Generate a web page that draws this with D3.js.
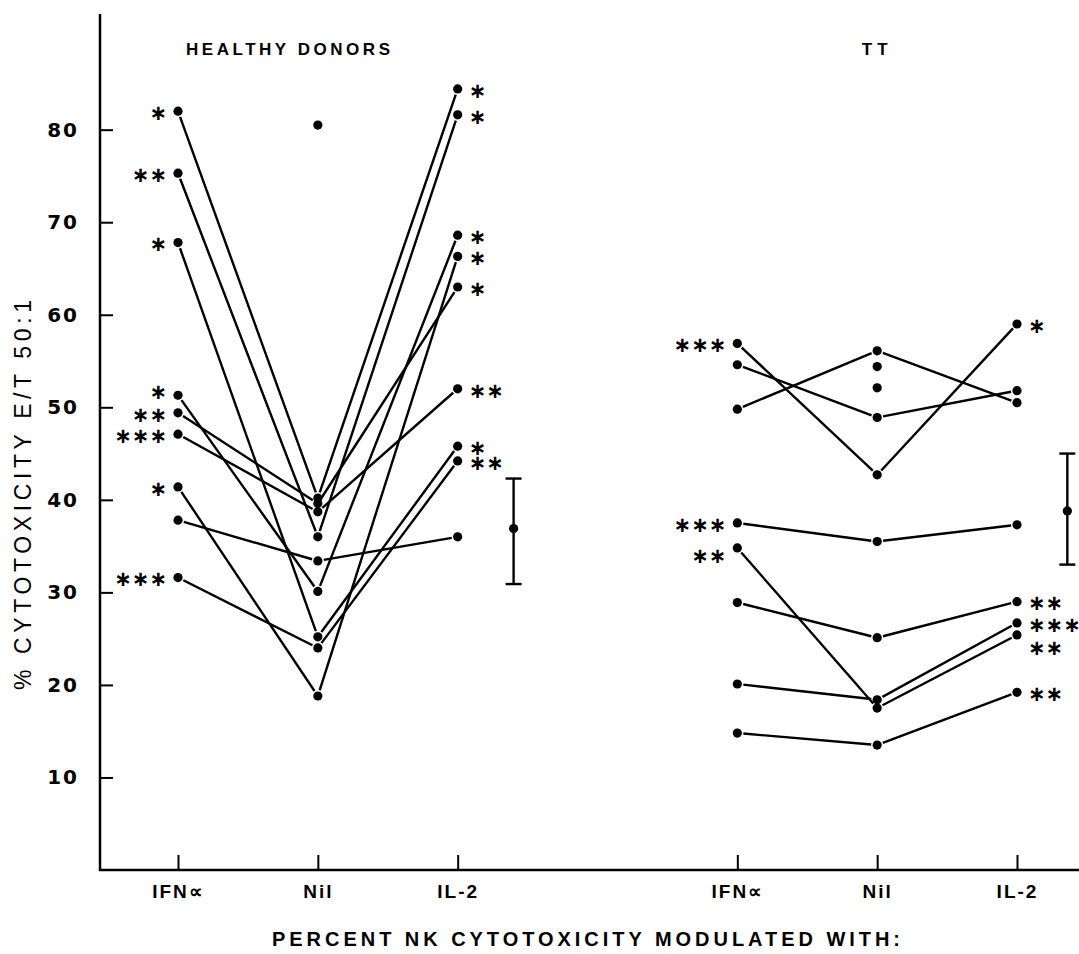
<!doctype html>
<html>
<head>
<meta charset="utf-8">
<title>Percent NK cytotoxicity</title>
<style>
    body { margin: 0; background: white; }
    svg { display: block; }
    .spine { stroke: black; stroke-width: 2.5px; }
    .axis .domain { display: none; }
    .axis line { stroke: black; stroke-width: 2px; }
    .axis-y text { font: bold 20px "DejaVu Sans"; letter-spacing: 2px; fill: black; }
    .axis-x text { font: bold 19px "Liberation Sans"; letter-spacing: 2px; fill: black; }
    .donor { stroke: black; stroke-width: 2.4px; fill: none; }
    .dot { fill: black; }
    .star { font: bold 21px "DejaVu Sans"; fill: black; }
    .title { font: bold 17px "Liberation Sans"; fill: black; }
    .xtitle { font: bold 20px "Liberation Sans"; fill: black; }
    .ytitle { font: 23px "Liberation Sans"; fill: black; }
    .bar { stroke: black; stroke-width: 2.4px; }
</style>
</head>
<body>
<script src="https://cdn.jsdelivr.net/npm/d3@7"></script>
<script>
    // values (% cytotoxicity, E/T 50:1)
    const panelTitles = ["HEALTHY DONORS", "TT"];
    const treatments = ["IFN∝", "Nil", "IL-2"];
    const yTicks = [10, 20, 30, 40, 50, 60, 70, 80];

    // healthy donors, one entry per donor
    const hdIFN = [82.0, 75.3, 67.8, 51.3, 49.4, 47.1, 41.4, 37.8, 31.6];
    const hdNil = [40.2, 36.0, 25.2, 30.1, 39.6, 38.7, 18.8, 33.4, 24.0];
    const hdIL2 = [84.4, 81.6, 45.8, 68.6, 63.0, 52.0, 66.3, 36.0, 44.2];
    const hdIFNStars = ["*", "**", "*", "*", "**", "***", "*", "", "***"];
    const hdIL2Stars = ["*", "*", "*", "*", "*", "**", "*", "", "**"];
    const hdNilOnly = [80.5];
    const hdMean = [30.9, 36.9, 42.3];

    // TT patients
    const ttIFN = [56.9, 54.6, 49.8, 37.5, 34.8, 28.9, 20.1, 14.8];
    const ttNil = [42.7, 48.9, 56.1, 35.5, 17.5, 25.1, 18.4, 13.5];
    const ttIL2 = [59.0, 51.8, 50.5, 37.3, 25.4, 29.0, 26.7, 19.2];
    const ttIFNStars = ["***", "", "", "***", "**", "", "", ""];
    const ttIL2Stars = ["*", "", "", "", "**", "**", "***", "**"];
    const ttNilOnly = [54.4, 52.1];
    const ttMean = [33.0, 38.8, 45.0];

    const width = 1079, height = 954;
    const axisLeft = 100;
    const svg = d3.select("body").append("svg")
        .attr("width", width)
        .attr("height", height);

    const y = d3.scaleLinear().domain([0, 92.5]).range([870, 14]);
    // six treatment slots, an empty slot between the two panels
    const x = d3.scaleLinear().domain([0, 6]).range([178, 1017]);
    const slot = (panel, i) => panel * 4 + i;

    // axes
    svg.append("line").attr("class", "spine")
        .attr("x1", axisLeft).attr("x2", axisLeft)
        .attr("y1", y(0) + 1).attr("y2", y(92.5));
    svg.append("line").attr("class", "spine")
        .attr("x1", axisLeft - 1).attr("x2", width)
        .attr("y1", y(0)).attr("y2", y(0));

    svg.append("g")
        .attr("class", "axis axis-y")
        .attr("transform", `translate(${axisLeft},0)`)
        .call(d3.axisLeft(y).tickValues(yTicks).tickSize(-13).tickPadding(21).tickFormat(d3.format("d")));

    const xSlots = [0, 1, 2, 4, 5, 6];
    svg.append("g")
        .attr("class", "axis axis-x")
        .attr("transform", `translate(0,${y(0)})`)
        .call(d3.axisBottom(x).tickValues(xSlots).tickSize(-15).tickPadding(15)
            .tickFormat(d => treatments[d % 4]));

    const gap = 6;

    function panel(p, ifn, nil, il2, ifnStars, il2Stars, nilOnly, mean, barSlot, nudge) {
        const g = svg.append("g");
        const cols = [ifn, nil, il2];
        const donors = d3.range(ifn.length)
            .map(k => cols.map((c, i) => ({x: x(slot(p, i)), y: y(c[k])})));

        const segs = donors.flatMap(pts => [[pts[0], pts[1]], [pts[1], pts[2]]]);
        g.selectAll("line.donor")
            .data(segs)
            .join("line")
            .attr("class", "donor")
            .each(function ([a, b]) {
                const len = Math.hypot(b.x - a.x, b.y - a.y);
                const ux = (b.x - a.x) / len, uy = (b.y - a.y) / len;
                d3.select(this)
                    .attr("x1", a.x + ux * gap).attr("y1", a.y + uy * gap)
                    .attr("x2", b.x - ux * gap).attr("y2", b.y - uy * gap);
            });

        const dots = donors.flat()
            .concat(nilOnly.map(v => ({x: x(slot(p, 1)), y: y(v)})));
        g.selectAll("circle.dot")
            .data(dots)
            .join("circle")
            .attr("class", "dot")
            .attr("cx", d => d.x)
            .attr("cy", d => d.y)
            .attr("r", 4.6);

        // significance stars
        g.selectAll("text.ifnstar")
            .data(ifnStars)
            .join("text")
            .attr("class", "star ifnstar")
            .attr("x", x(slot(p, 0)) - 11)
            .attr("y", (d, k) => y(ifn[k]) + (nudge[`ifn${k}`] || 0))
            .attr("dy", "0.42em")
            .attr("text-anchor", "end")
            .text(d => d.replace(/\*/g, "∗"));
        g.selectAll("text.il2star")
            .data(il2Stars)
            .join("text")
            .attr("class", "star il2star")
            .attr("x", x(slot(p, 2)) + 11)
            .attr("y", (d, k) => y(il2[k]) + (nudge[`il2${k}`] || 0))
            .attr("dy", "0.42em")
            .attr("text-anchor", "start")
            .text(d => d.replace(/\*/g, "∗"));

        // mean +/- range bar
        const bx = x(barSlot);
        g.append("line").attr("class", "bar")
            .attr("x1", bx).attr("x2", bx)
            .attr("y1", y(mean[0])).attr("y2", y(mean[2]));
        g.selectAll("line.cap")
            .data([mean[0], mean[2]])
            .join("line")
            .attr("class", "bar cap")
            .attr("x1", bx - 8).attr("x2", bx + 8)
            .attr("y1", d => y(d)).attr("y2", d => y(d));
        g.append("circle").attr("class", "dot")
            .attr("cx", bx).attr("cy", y(mean[1])).attr("r", 4.6);
    }

    panel(0, hdIFN, hdNil, hdIL2, hdIFNStars, hdIL2Stars, hdNilOnly, hdMean, 2.4, {ifn3: -5});
    panel(1, ttIFN, ttNil, ttIL2, ttIFNStars, ttIL2Stars, ttNilOnly, ttMean, 6.36, {ifn4: 6, il24: 11});

    // titles
    svg.append("text").attr("class", "title")
        .attr("x", 186).attr("y", 55)
        .attr("textLength", 204).attr("lengthAdjust", "spacing")
        .text(panelTitles[0]);
    svg.append("text").attr("class", "title")
        .attr("x", x(slot(1, 1))).attr("y", 55)
        .attr("text-anchor", "middle")
        .attr("letter-spacing", 5)
        .text(panelTitles[1]);

    svg.append("text").attr("class", "xtitle")
        .attr("x", 272).attr("y", 946)
        .attr("textLength", 628).attr("lengthAdjust", "spacing")
        .text("PERCENT NK CYTOTOXICITY MODULATED WITH:");

    svg.append("text").attr("class", "ytitle")
        .attr("transform", "translate(31,690) rotate(-90)")
        .attr("textLength", 390).attr("lengthAdjust", "spacing")
        .text("% CYTOTOXICITY E/T 50:1");
</script>
</body>
</html>
